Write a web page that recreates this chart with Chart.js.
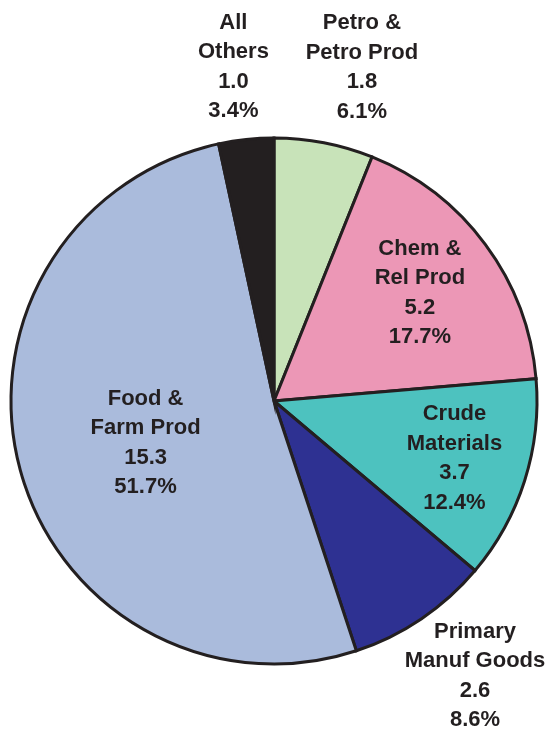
<!DOCTYPE html>
<html>
<head>
<meta charset="utf-8">
<script src="https://cdn.jsdelivr.net/npm/chart.js@4.4.1/dist/chart.umd.min.js"></script>
<style>
  html, body { margin: 0; padding: 0; background: #ffffff; }
  #wrap { width: 550px; height: 732px; }
</style>
</head>
<body>
<div id="wrap"><canvas id="pie" width="550" height="732"></canvas></div>
<script>
// Categories (multi-line names), values and percent shares
const categories = [
  ["Petro &", "Petro Prod"],
  ["Chem &", "Rel Prod"],
  ["Crude", "Materials"],
  ["Primary", "Manuf Goods"],
  ["Food &", "Farm Prod"],
  ["All", "Others"]
];
const values = [1.8, 5.2, 3.7, 2.6, 15.3, 1.0];
const shares = [6.1, 17.7, 12.4, 8.6, 51.7, 3.4];
const colors = ["#c8e3b9", "#ec97b6", "#4dc2bf", "#2e3192", "#aabbdc", "#231f20"];

// Label placement: radius factor relative to outer radius, plus small nudges
const labelRadius = [1.28, 0.69, 0.72, 1.29, 0.51, 1.277];
const labelNudge = [[24, -3], [0, 0], [0, 0], [11, -6], [1, 7], [-5, 0]];

const sliceLabels = {
  id: 'sliceLabels',
  afterDatasetsDraw(chart) {
    const ctx = chart.ctx;
    const meta = chart.getDatasetMeta(0);
    ctx.save();
    ctx.font = 'bold 22px "Liberation Sans", Arial, sans-serif';
    ctx.fillStyle = '#231f20';
    ctx.textAlign = 'center';
    ctx.textBaseline = 'middle';
    const lineH = 29.5;
    meta.data.forEach((arc, i) => {
      const p = arc.getProps(['x', 'y', 'startAngle', 'endAngle', 'outerRadius'], true);
      const mid = (p.startAngle + p.endAngle) / 2;
      const r = p.outerRadius * labelRadius[i];
      const cx = p.x + Math.cos(mid) * r + labelNudge[i][0];
      const cy = p.y + Math.sin(mid) * r + labelNudge[i][1];
      const lines = [...categories[i], values[i].toFixed(1), shares[i].toFixed(1) + '%'];
      lines.forEach((t, k) => {
        ctx.fillText(t, cx, cy + (k - (lines.length - 1) / 2) * lineH);
      });
    });
    ctx.restore();
  }
};

new Chart(document.getElementById('pie'), {
  type: 'pie',
  data: {
    labels: categories.map(c => c.join(' ')),
    datasets: [{
      data: values,
      backgroundColor: colors,
      borderColor: '#231f20',
      borderWidth: 3,
      borderJoinStyle: 'miter'
    }]
  },
  options: {
    responsive: false,
    animation: false,
    radius: 263,
    rotation: 0,
    layout: { padding: { top: 100, bottom: 30, left: 5, right: 7 } },
    plugins: {
      legend: { display: false },
      tooltip: { enabled: false }
    }
  },
  plugins: [sliceLabels]
});
</script>
</body>
</html>
